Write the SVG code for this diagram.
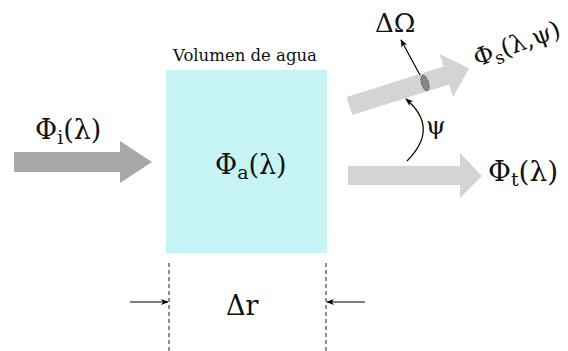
<svg xmlns="http://www.w3.org/2000/svg" width="568" height="351" viewBox="0 0 568 351">
<style>
.t{font-family:"DejaVu Serif","Liberation Serif",serif;fill:#111}
.ln{stroke:#000;fill:none;stroke-width:1.2}
.dash{stroke:#555;stroke-width:1.3;stroke-dasharray:4,3;fill:none}
</style>
<defs>
<marker id="ah" viewBox="0 0 10 10" refX="9" refY="5" markerWidth="8" markerHeight="8" orient="auto" markerUnits="userSpaceOnUse">
<path d="M0,1 L10,5 L0,9 L3,5 z" fill="#000"/>
</marker>
</defs>
<g id="volume">
<rect x="166" y="70" width="161" height="183" fill="#c6f4f4"/>
<text class="t" x="173" y="60.5" font-size="16.5">Volumen de agua</text>
<text class="t" x="215" y="174" font-size="27">Φ<tspan font-size="19" dy="5">a</tspan><tspan dy="-5">(λ)</tspan></text>
</g>
<g id="incident">
<path d="M14,152 H120 V141 L152,162 L120,183 V172 H14 z" fill="#a8a8a8"/>
<text class="t" x="35" y="139" font-size="27">Φ<tspan font-size="19" dy="5">i</tspan><tspan dy="-5">(λ)</tspan></text>
</g>
<g id="transmitted">
<path d="M348,166 H460 V153 L482,176 L460,198 V185 H348 z" fill="#d4d4d4"/>
<text class="t" x="488" y="181" font-size="28">Φ<tspan font-size="19" dy="5">t</tspan><tspan dy="-5">(λ)</tspan></text>
</g>
<g id="scattered">
<path d="M349.5,96.5 H451 V83.5 L475,106 L451,128.5 V115.5 H349.5 z" fill="#d4d4d4" transform="rotate(-17.5 349.5 106)"/>
<ellipse cx="425" cy="83" rx="3.5" ry="8" fill="#888" stroke="#333" stroke-width="0.8" stroke-dasharray="1.5,1" transform="rotate(-17.5 425 83)"/>
<text class="t" x="0" y="0" font-size="24.5" transform="translate(477,67) rotate(-20)">Φ<tspan font-size="17.5" dy="5">s</tspan><tspan dy="-5">(λ,ψ)</tspan></text>
</g>
<g id="connectors">
<path class="ln" d="M420,75 L401,40" marker-end="url(#ah)"/>
<path class="ln" d="M407,161 Q440,128 406,99" marker-end="url(#ah)"/>
<path class="dash" d="M169,263 V351"/>
<path class="dash" d="M326,263 V351"/>
<path class="ln" d="M130,302 H168" marker-end="url(#ah)"/>
<path class="ln" d="M365,302 H327" marker-end="url(#ah)"/>
</g>
<text class="t" x="375" y="31.5" font-size="26">ΔΩ</text>
<text class="t" x="426" y="134" font-size="25">ψ</text>
<text class="t" x="226" y="315" font-size="27">Δr</text>
</svg>
